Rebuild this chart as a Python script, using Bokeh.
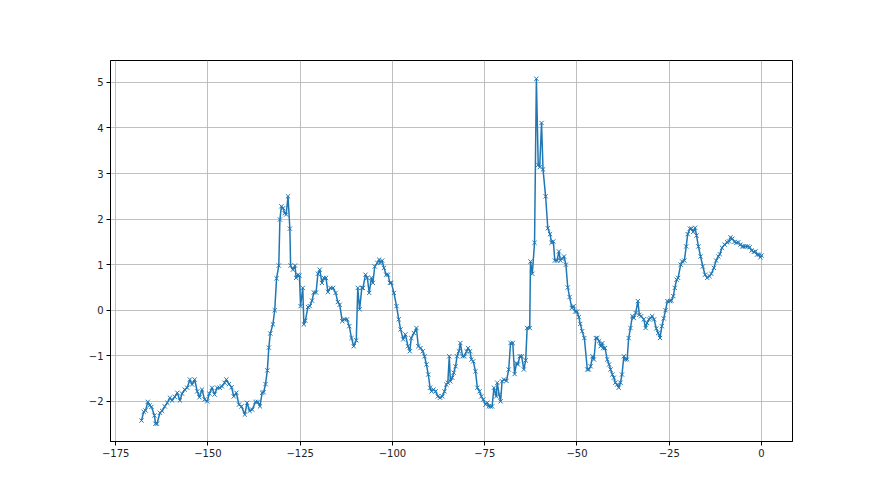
from bokeh.plotting import figure
from bokeh.models import Range1d, FixedTicker
from bokeh.embed import file_html
from bokeh.resources import INLINE

xs = [-168.0, -167.4, -166.9, -166.3, -165.8, -165.3, -164.5, -164.2, -163.8, -163.0,
      -162.4, -161.7, -161.0, -160.3, -159.7, -159.0, -158.3, -157.6, -157.0, -156.3,
      -155.6, -154.9, -154.3, -153.6, -152.9, -152.3, -151.6, -150.9, -150.2, -149.6,
      -148.9, -148.2, -147.5, -146.8, -146.2, -145.5, -145.0, -144.3, -143.6, -143.0,
      -142.3, -141.6, -140.9, -140.0, -139.4, -138.7, -138.0, -137.1, -136.5, -135.9,
      -135.3, -134.9, -134.4, -133.9, -133.5, -133.1, -132.4, -131.9, -131.4, -130.8,
      -130.5, -130.1, -129.6, -129.2, -128.8, -128.3, -127.8, -127.6, -127.0, -126.4,
      -126.1, -125.6, -125.2, -124.9, -124.3, -124.0, -123.6, -122.9, -122.4, -121.8,
      -121.3, -120.7, -120.2, -119.7, -119.1, -118.6, -118.0, -117.5, -116.8, -116.1,
      -115.4, -114.8, -114.3, -113.6, -113.0, -112.3, -111.7, -111.1, -110.5, -109.8,
      -109.4, -108.9, -108.3, -108.0, -107.3, -106.8, -106.3, -105.7, -105.3, -104.8,
      -104.1, -103.6, -103.3, -102.8, -102.3, -101.7, -101.2, -100.7, -100.3, -99.6,
      -98.9, -98.3, -97.8, -97.1, -96.5, -95.8, -95.3, -94.9, -94.2, -93.5,
      -93.0, -92.4, -91.8, -91.3, -90.8, -90.3, -89.8, -89.4, -88.9, -88.3,
      -87.7, -87.1, -86.5, -85.9, -85.4, -85.0, -84.6, -84.3, -83.8, -83.4,
      -82.9, -82.5, -82.0, -81.6, -81.0, -80.5, -79.9, -79.5, -79.0, -78.6,
      -78.1, -77.5, -77.0, -76.4, -75.9, -75.4, -74.8, -74.3, -73.9, -73.4,
      -73.0, -72.5, -71.9, -71.6, -71.1, -70.7, -70.3, -69.8, -69.1, -68.5,
      -68.0, -67.4, -66.9, -66.4, -66.0, -65.5, -65.0, -64.4, -63.9, -63.5,
      -62.8, -62.6, -62.1, -61.5, -61.0, -60.5, -60.1, -59.6, -59.2, -58.5,
      -57.9, -57.3, -56.9, -56.4, -56.0, -55.4, -54.9, -54.5, -54.0, -53.5,
      -53.0, -52.5, -52.0, -51.4, -50.9, -50.5, -50.0, -49.5, -49.1, -48.6,
      -48.0, -47.2, -46.8, -46.3, -45.8, -45.4, -44.9, -44.5, -44.0, -43.6,
      -43.1, -42.9, -42.4, -41.8, -41.3, -40.9, -40.4, -40.0, -39.6, -39.1,
      -38.7, -38.2, -37.8, -37.3, -36.9, -36.4, -36.0, -35.5, -35.0, -34.6,
      -34.1, -33.5, -33.1, -32.6, -31.9, -31.4, -31.0, -30.5, -30.1, -29.6,
      -29.1, -28.5, -28.0, -27.5, -27.0, -26.5, -26.0, -25.5, -24.8, -24.4,
      -23.9, -23.5, -23.0, -22.6, -21.9, -21.5, -20.9, -20.4, -20.0, -19.4,
      -19.0, -18.5, -18.0, -17.6, -17.1, -16.5, -15.9, -15.3, -14.7, -14.1,
      -13.6, -12.9, -12.3, -11.7, -11.3, -10.7, -10.0, -9.3, -8.8, -8.4,
      -7.9, -7.3, -6.8, -6.3, -5.7, -5.2, -4.8, -4.3, -3.7, -3.2,
      -2.7, -2.1, -1.6, -1.2, -0.7, -0.3, 0.0]

ys = [-2.42, -2.23, -2.20, -2.01, -2.09, -2.12, -2.31, -2.49, -2.49, -2.25,
      -2.21, -2.11, -2.03, -1.92, -1.98, -1.90, -1.81, -1.98, -1.83, -1.74,
      -1.70, -1.52, -1.63, -1.52, -1.78, -1.91, -1.74, -1.96, -2.00, -1.83,
      -1.70, -1.85, -1.70, -1.70, -1.67, -1.59, -1.52, -1.62, -1.69, -1.89,
      -1.81, -2.07, -2.11, -2.29, -2.03, -2.21, -2.18, -2.01, -2.01, -2.11,
      -1.81, -1.80, -1.62, -1.32, -0.82, -0.51, -0.31, 0.00, 0.70, 0.98,
      1.99, 2.28, 2.24, 2.13, 2.10, 2.50, 1.79, 0.98, 0.89, 0.98,
      0.71, 0.78, 0.76, 0.09, 0.49, -0.31, -0.23, 0.07, 0.09, 0.21,
      0.39, 0.39, 0.80, 0.89, 0.60, 0.71, 0.71, 0.40, 0.49, 0.49,
      0.38, 0.18, 0.12, -0.24, -0.20, -0.20, -0.35, -0.61, -0.79, -0.66,
      0.49, 0.02, 0.49, 0.49, 0.78, 0.71, 0.38, 0.71, 0.60, 0.96,
      1.04, 1.11, 1.04, 1.09, 0.93, 0.78, 0.78, 0.60, 0.60, 0.38,
      0.09, -0.20, -0.42, -0.64, -0.53, -0.79, -0.90, -0.61, -0.50, -0.39,
      -0.79, -0.83, -0.90, -1.01, -1.19, -1.41, -1.70, -1.78, -1.74, -1.78,
      -1.89, -1.92, -1.89, -1.78, -1.63, -1.59, -1.01, -1.56, -1.48, -1.37,
      -1.23, -1.01, -0.90, -0.72, -1.01, -1.01, -0.90, -0.83, -0.90, -1.08,
      -1.12, -1.34, -1.70, -1.78, -1.89, -1.96, -2.07, -2.03, -2.11, -2.11,
      -2.11, -1.70, -1.89, -1.59, -1.85, -2.00, -1.56, -1.52, -1.55, -1.30,
      -0.72, -0.72, -1.40, -1.16, -1.19, -1.01, -1.01, -1.30, -1.10, -0.39,
      -0.39, 1.07, 0.80, 1.48, 5.08, 3.19, 3.14, 4.11, 3.09, 2.50,
      1.80, 1.67, 1.48, 1.51, 1.09, 1.09, 1.29, 1.09, 1.13, 1.18,
      1.00, 0.50, 0.29, 0.05, 0.09, -0.03, -0.03, -0.15, -0.30, -0.46,
      -0.61, -1.30, -1.30, -1.23, -1.01, -1.08, -0.61, -0.61, -0.68, -0.79,
      -0.72, -0.83, -0.83, -1.08, -1.19, -1.30, -1.41, -1.48, -1.59, -1.63,
      -1.70, -1.59, -1.41, -1.01, -1.08, -1.08, -0.61, -0.39, -0.13, -0.17,
      -0.06, 0.20, -0.10, -0.13, -0.20, -0.39, -0.28, -0.20, -0.17, -0.13,
      -0.20, -0.40, -0.50, -0.61, -0.35, -0.18, 0.00, 0.20, 0.20, 0.21,
      0.31, 0.49, 0.67, 0.71, 1.00, 1.07, 1.09, 1.40, 1.67, 1.79,
      1.79, 1.72, 1.81, 1.64, 1.40, 1.18, 0.96, 0.78, 0.71, 0.75,
      0.80, 0.93, 1.09, 1.18, 1.23, 1.37, 1.44, 1.49, 1.51, 1.60,
      1.57, 1.50, 1.48, 1.49, 1.44, 1.40, 1.40, 1.40, 1.40, 1.38,
      1.31, 1.28, 1.29, 1.22, 1.22, 1.16, 1.20]

x_ticks = [-175, -150, -125, -100, -75, -50, -25, 0]
y_ticks = [-2, -1, 0, 1, 2, 3, 4, 5]

def lab(v):
    return str(v).replace("-", "\u2212")

p = figure(width=872, height=487, output_backend="svg", toolbar_location=None,
           x_range=Range1d(-176.4, 8.4), y_range=Range1d(-2.88, 5.48),
           min_border_left=110, min_border_right=80, min_border_top=60, min_border_bottom=46)

p.background_fill_color = "white"
p.border_fill_color = "white"
p.outline_line_color = "black"
p.outline_line_width = 1

for ax, ticks in ((p.xaxis[0], x_ticks), (p.yaxis[0], y_ticks)):
    ax.ticker = FixedTicker(ticks=ticks)
    ax.major_label_overrides = {t: lab(t) for t in ticks}
    ax.minor_tick_line_color = None
    ax.major_tick_in = 0
    ax.major_tick_out = 4
    ax.major_tick_line_color = "black"
    ax.axis_line_color = "black"
    ax.major_label_text_font = "DejaVu Sans"
    ax.major_label_text_font_size = "10px"
    ax.major_label_text_color = "#222222"
    ax.major_label_standoff = 3

p.grid.grid_line_color = "#b0b0b0"
p.grid.grid_line_width = 0.8

p.line(xs, ys, line_color="#1f77b4", line_width=1.5)
p.scatter(xs, ys, marker="x", size=6, line_color="#1f77b4", line_width=1)

open("out.html", "w").write(file_html(p, INLINE))
